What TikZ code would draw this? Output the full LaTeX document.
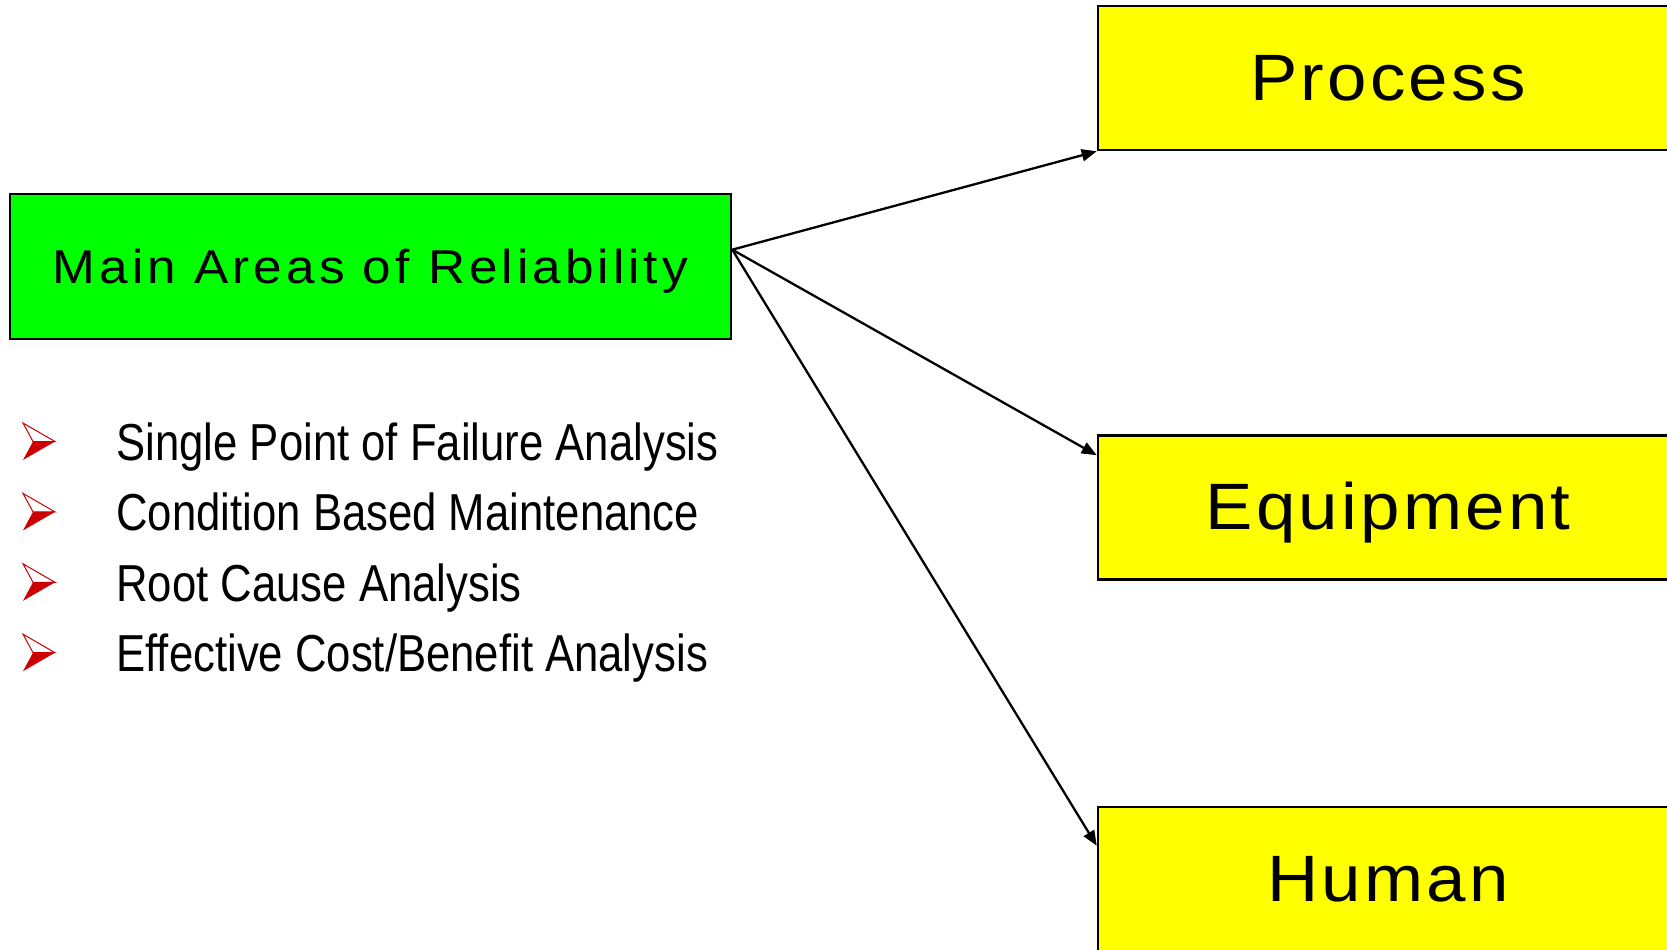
\documentclass[tikz,border=0pt]{standalone}
\usepackage{fontspec}
\setmainfont{Liberation Sans}
\newfontfamily\areafont{Liberation Sans}[FakeStretch=1.08,LetterSpace=5]
\newfontfamily\titlefont{Liberation Sans}[FakeStretch=1.08,LetterSpace=8.5]
\newfontfamily\listfont{Liberation Sans}[FakeStretch=0.84]
\usetikzlibrary{arrows.meta,calc}
\definecolor{boxgreen}{RGB}{0,255,0}
\definecolor{boxyellow}{RGB}{255,255,0}
\definecolor{bulletred}{RGB}{204,0,0}
\begin{document}
\begin{tikzpicture}[x=0.5pt,y=-0.5pt,
    link/.style={-{Triangle[length=7.5pt,width=6pt]},line width=1.15pt},
    mainbox/.style={draw,line width=1.3pt,fill=boxgreen,inner sep=0pt,
        minimum width=360.5pt,minimum height=72.5pt,text height=17.3pt,text depth=0pt,
        font=\titlefont\fontsize{23.75pt}{28pt}\selectfont},
    area/.style={draw,line width=1.3pt,fill=boxyellow,inner sep=0pt,
        minimum width=290pt,minimum height=72pt,text height=22pt,text depth=0pt,
        font=\areafont\fontsize{32.8pt}{38pt}\selectfont},
    item/.style={inner sep=0pt,anchor=base west,font=\listfont\fontsize{26pt}{30pt}\selectfont}]
    \clip (0,0) rectangle (1667,949);
    \node[mainbox] (main) at (370.5,266.5) {Main Areas of Reliability};
    \node[area] (process) at (1388,78) {Process};
    \node[area] (equipment) at (1388,507.5) {Equipment};
    \node[area] (human) at (1388,879) {Human};
    % list under the main box
    \foreach \i/\txt in {0/Single Point of Failure Analysis,1/Condition Based Maintenance,
        2/Root Cause Analysis,3/{Effective Cost/Benefit Analysis}}
    {
        \node[item] (item\i) at (116,460.5+70.4*\i) {\txt};
        \filldraw[bulletred,fill=white,line width=0.5pt]
            (23,423+70.4*\i) -- (55,441.5+70.4*\i) -- (33,441.5+70.4*\i) -- cycle;
        \fill[bulletred] (33,441.5+70.4*\i) -- (55,441.5+70.4*\i) -- (23,460+70.4*\i) -- cycle;
    }
    \coordinate (src) at ($(main.north east)!0.386!(main.south east)$);
    \draw[link] (src) -- (process.south west);
    \draw[link] (src) -- ($(equipment.north west)+(0,21)$);
    \draw[link] (src) -- ($(human.north west)+(0,40)$);
\end{tikzpicture}
\end{document}
